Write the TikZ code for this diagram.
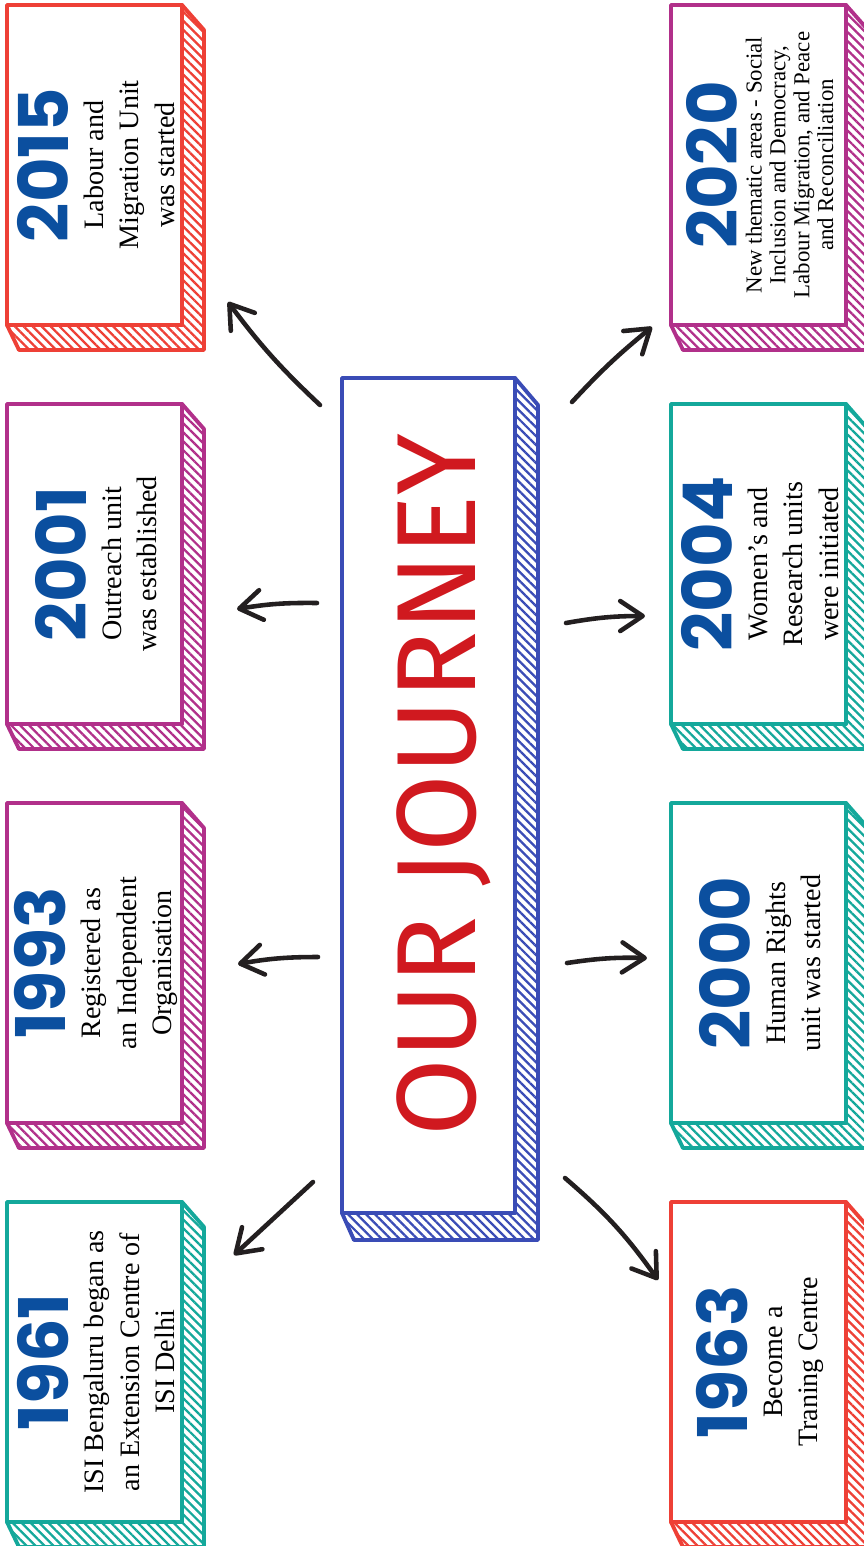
\documentclass[tikz,border=0pt]{standalone}
\usepackage{fontspec}
\setmainfont{Liberation Serif}
\newfontfamily\yearfamily{Poppins}
\newfontfamily\titlefamily{Fira Sans}
\usepackage{xcolor}
\usetikzlibrary{patterns.meta}
\usetikzlibrary{arrows.meta}

\definecolor{boxred}{HTML}{EE4036}
\definecolor{boxpurple}{HTML}{B1308A}
\definecolor{boxteal}{HTML}{14A89B}
\definecolor{boxblue}{HTML}{3A4CB6}
\definecolor{yearblue}{HTML}{0B4F9F}
\definecolor{titlered}{HTML}{D0191F}
\definecolor{arrowink}{HTML}{231F20}

\newcommand{\yeartext}[1]{{\yearfamily\bfseries\fontsize{39}{20}\selectfont\color{yearblue}#1}}

% #1 name, #2 colour, #3 left, #4 top, #5 text style, #6 text
\newcommand{\journeybox}[6]{%
	\draw[boxline, #2, preaction={fill=white}, pattern={Lines[angle=-45,distance=3.6pt,line width=1.3pt]}, pattern color=#2]
		(#3+175,#4) -- ++(22,25) -- ++(0,320) -- ++(-185,0) -- ++(-12,-25) -- ++(175,0) -- cycle;
	\draw[boxline, #2, fill=white] (#3,#4) rectangle (#3+175,#4+320);
	\node[#5] (#1) at (#3+89,#4+160) {#6};
}

\begin{document}
\begin{tikzpicture}[x=0.02cm, y=-0.02cm,
	boxline/.style={line width=2.2pt, line join=round},
	boxtext/.style={rotate=90, align=center, text=black, font=\fontsize{16}{20}\selectfont},
	smallboxtext/.style={rotate=90, align=center, text=black, font=\fontsize{13}{13.6}\selectfont},
	journeyarrow/.style={arrowink, line width=2.6pt, line cap=round,
		-{Straight Barb[length=4.5mm, width=6mm, round]}}]
	\useasboundingbox (0,0) rectangle (864,1546);

	% centre box
	\draw[boxline, boxblue, preaction={fill=white}, pattern={Lines[angle=-45,distance=3.6pt,line width=1.3pt]}, pattern color=boxblue]
		(515,378) -- (538,405) -- (538,1240) -- (354,1240) -- (342,1213) -- (515,1213) -- cycle;
	\draw[boxline, boxblue, fill=white] (342,378) rectangle (515,1213);
	\node[rotate=90, text=titlered, font=\titlefamily\fontsize{64}{70}\selectfont] (title) at (444,785) {OUR JOURNEY};

	% left column
	\journeybox{b2015}{boxred}{7}{5}{boxtext}{\yeartext{2015}\\Labour and\\Migration Unit\\was started}
	\journeybox{b2001}{boxpurple}{7}{404}{boxtext}{\yeartext{2001}\\Outreach unit\\was established}
	\journeybox{b1993}{boxpurple}{7}{803}{boxtext}{\yeartext{1993}\\Registered as\\an Independent\\Organisation}
	\journeybox{b1961}{boxteal}{7}{1202}{boxtext}{\yeartext{1961}\\ISI Bengaluru began as\\an Extension Centre of\\ISI Delhi}

	% right column
	\journeybox{b2020}{boxpurple}{671}{5}{smallboxtext}{\yeartext{2020}\\New thematic areas - Social\\Inclusion and Democracy,\\Labour Migration, and Peace\\and Reconciliation}
	\journeybox{b2004}{boxteal}{671}{404}{boxtext}{\yeartext{2004}\\Women’s and\\Research units\\were initiated}
	\journeybox{b2000}{boxteal}{671}{803}{boxtext}{\yeartext{2000}\\Human Rights\\unit was started}
	\journeybox{b1963}{boxred}{671}{1202}{boxtext}{\yeartext{1963}\\Become a\\Traning Centre}

	% arrows
	\coordinate (s2015) at (320,405);  \coordinate (e2015) at (228,302);
	\coordinate (s2001) at (317,603);  \coordinate (e2001) at (237,609);
	\coordinate (s1993) at (318,957);  \coordinate (e1993) at (238,964);
	\coordinate (s1961) at (313,1182); \coordinate (e1961) at (234,1255);
	\coordinate (s2020) at (572,402);  \coordinate (e2020) at (652,327);
	\coordinate (s2004) at (566,623);  \coordinate (e2004) at (645,616);
	\coordinate (s2000) at (567,963);  \coordinate (e2000) at (647,958);
	\coordinate (s1963) at (565,1178); \coordinate (e1963) at (658,1280);

	\draw[journeyarrow] (s2015) to[bend left=5] (e2015);
	\draw[journeyarrow] (s2001) to[bend right=5] (e2001);
	\draw[journeyarrow] (s1993) to[bend right=5] (e1993);
	\draw[journeyarrow] (s1961) -- (e1961);
	\draw[journeyarrow] (s2020) to[bend left=4] (e2020);
	\draw[journeyarrow] (s2004) to[bend left=5] (e2004);
	\draw[journeyarrow] (s2000) to[bend left=5] (e2000);
	\draw[journeyarrow] (s1963) to[bend left=7] (e1963);

\end{tikzpicture}
\end{document}
